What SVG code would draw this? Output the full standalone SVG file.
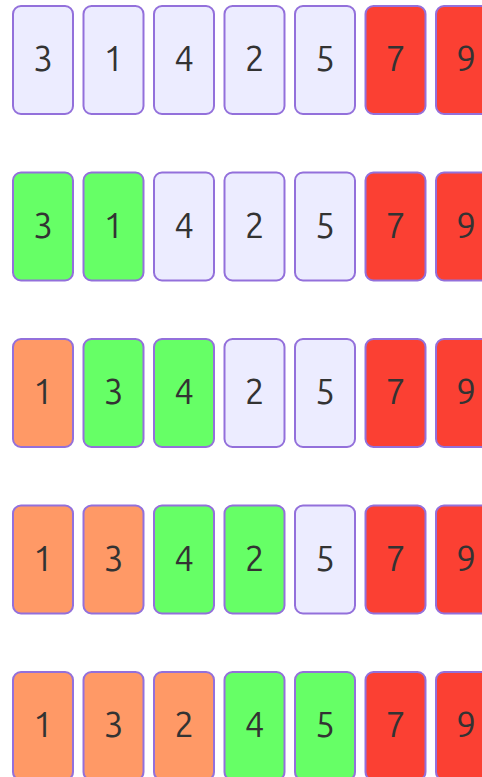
<svg xmlns="http://www.w3.org/2000/svg" width="482" height="777" viewBox="0 0 482 777">
<style>
rect{stroke:#9370DB;stroke-width:2;}
.l{fill:#ECECFF}.g{fill:#66FF66}.o{fill:#FF9966}.r{fill:#FB4033}
text{font-family:"Ubuntu","Trebuchet MS","Open Sans","DejaVu Sans",sans-serif;font-size:35px;fill:#333;text-anchor:middle;dominant-baseline:central}
</style>
<rect width="482" height="777" fill="#fff" style="stroke:none"/>
<g id="row1">
<g id="r1c1"><rect class="l" x="13" y="6" width="60" height="108" rx="8"/><text x="43" y="58">3</text></g>
<g id="r1c2"><rect class="l" x="83.5" y="6" width="60" height="108" rx="8"/><text x="113.5" y="58">1</text></g>
<g id="r1c3"><rect class="l" x="154" y="6" width="60" height="108" rx="8"/><text x="184" y="58">4</text></g>
<g id="r1c4"><rect class="l" x="224.5" y="6" width="60" height="108" rx="8"/><text x="254.5" y="58">2</text></g>
<g id="r1c5"><rect class="l" x="295" y="6" width="60" height="108" rx="8"/><text x="325" y="58">5</text></g>
<g id="r1c6"><rect class="r" x="365.5" y="6" width="60" height="108" rx="8"/><text x="395.5" y="58">7</text></g>
<g id="r1c7"><rect class="r" x="436" y="6" width="60" height="108" rx="8"/><text x="466" y="58">9</text></g>
</g>
<g id="row2">
<g id="r2c1"><rect class="g" x="13" y="172.5" width="60" height="108" rx="8"/><text x="43" y="224.5">3</text></g>
<g id="r2c2"><rect class="g" x="83.5" y="172.5" width="60" height="108" rx="8"/><text x="113.5" y="224.5">1</text></g>
<g id="r2c3"><rect class="l" x="154" y="172.5" width="60" height="108" rx="8"/><text x="184" y="224.5">4</text></g>
<g id="r2c4"><rect class="l" x="224.5" y="172.5" width="60" height="108" rx="8"/><text x="254.5" y="224.5">2</text></g>
<g id="r2c5"><rect class="l" x="295" y="172.5" width="60" height="108" rx="8"/><text x="325" y="224.5">5</text></g>
<g id="r2c6"><rect class="r" x="365.5" y="172.5" width="60" height="108" rx="8"/><text x="395.5" y="224.5">7</text></g>
<g id="r2c7"><rect class="r" x="436" y="172.5" width="60" height="108" rx="8"/><text x="466" y="224.5">9</text></g>
</g>
<g id="row3">
<g id="r3c1"><rect class="o" x="13" y="339" width="60" height="108" rx="8"/><text x="43" y="391">1</text></g>
<g id="r3c2"><rect class="g" x="83.5" y="339" width="60" height="108" rx="8"/><text x="113.5" y="391">3</text></g>
<g id="r3c3"><rect class="g" x="154" y="339" width="60" height="108" rx="8"/><text x="184" y="391">4</text></g>
<g id="r3c4"><rect class="l" x="224.5" y="339" width="60" height="108" rx="8"/><text x="254.5" y="391">2</text></g>
<g id="r3c5"><rect class="l" x="295" y="339" width="60" height="108" rx="8"/><text x="325" y="391">5</text></g>
<g id="r3c6"><rect class="r" x="365.5" y="339" width="60" height="108" rx="8"/><text x="395.5" y="391">7</text></g>
<g id="r3c7"><rect class="r" x="436" y="339" width="60" height="108" rx="8"/><text x="466" y="391">9</text></g>
</g>
<g id="row4">
<g id="r4c1"><rect class="o" x="13" y="505.5" width="60" height="108" rx="8"/><text x="43" y="557.5">1</text></g>
<g id="r4c2"><rect class="o" x="83.5" y="505.5" width="60" height="108" rx="8"/><text x="113.5" y="557.5">3</text></g>
<g id="r4c3"><rect class="g" x="154" y="505.5" width="60" height="108" rx="8"/><text x="184" y="557.5">4</text></g>
<g id="r4c4"><rect class="g" x="224.5" y="505.5" width="60" height="108" rx="8"/><text x="254.5" y="557.5">2</text></g>
<g id="r4c5"><rect class="l" x="295" y="505.5" width="60" height="108" rx="8"/><text x="325" y="557.5">5</text></g>
<g id="r4c6"><rect class="r" x="365.5" y="505.5" width="60" height="108" rx="8"/><text x="395.5" y="557.5">7</text></g>
<g id="r4c7"><rect class="r" x="436" y="505.5" width="60" height="108" rx="8"/><text x="466" y="557.5">9</text></g>
</g>
<g id="row5">
<g id="r5c1"><rect class="o" x="13" y="672" width="60" height="108" rx="8"/><text x="43" y="724">1</text></g>
<g id="r5c2"><rect class="o" x="83.5" y="672" width="60" height="108" rx="8"/><text x="113.5" y="724">3</text></g>
<g id="r5c3"><rect class="o" x="154" y="672" width="60" height="108" rx="8"/><text x="184" y="724">2</text></g>
<g id="r5c4"><rect class="g" x="224.5" y="672" width="60" height="108" rx="8"/><text x="254.5" y="724">4</text></g>
<g id="r5c5"><rect class="g" x="295" y="672" width="60" height="108" rx="8"/><text x="325" y="724">5</text></g>
<g id="r5c6"><rect class="r" x="365.5" y="672" width="60" height="108" rx="8"/><text x="395.5" y="724">7</text></g>
<g id="r5c7"><rect class="r" x="436" y="672" width="60" height="108" rx="8"/><text x="466" y="724">9</text></g>
</g>
<g id="connectors"></g>
</svg>
